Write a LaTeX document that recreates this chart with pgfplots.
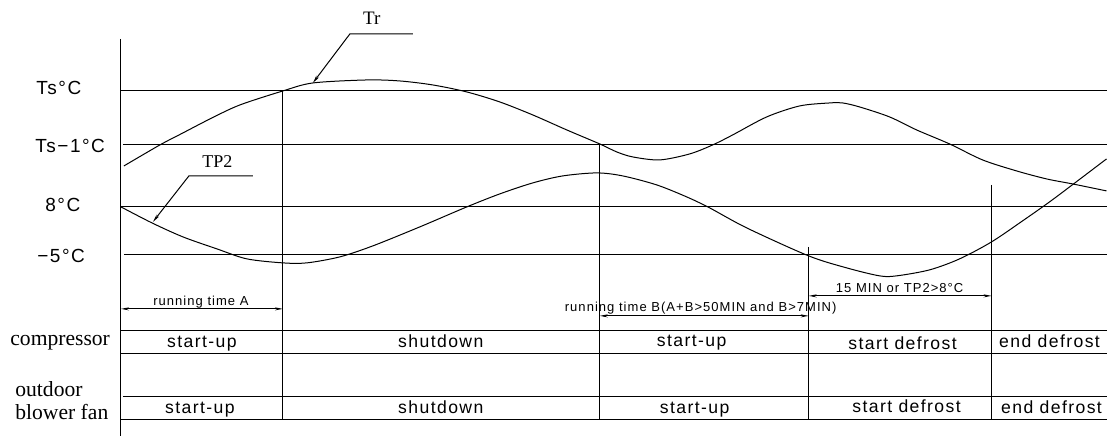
\documentclass[border=0pt]{standalone}
\usepackage{fontspec}
\setmainfont{Liberation Serif}
\newfontfamily\cad[LetterSpace=8]{Liberation Sans}
\usepackage{pgfplots}
\pgfplotsset{compat=1.18}
\usetikzlibrary{arrows.meta}

\begin{document}
\begin{tikzpicture}
\begin{axis}[
  x=0.5pt, y=0.5pt,
  xmin=0, xmax=1107, ymin=0, ymax=436,
  y dir=reverse,
  hide axis,
  clip=false,
  ln/.style={black, line width=0.5pt, mark=none, solid},
  dim/.style={ln, {Stealth[length=4pt,width=1.5pt]}-{Stealth[length=4pt,width=1.5pt]}},
  lead/.style={ln, -{Stealth[length=4pt,width=1.6pt]}},
]
% frame of the picture (invisible)
\addplot[draw=none, mark=none] coordinates {(0,0) (1107,436)};

% level lines
\addplot[ln] coordinates {(121,91) (1107,91)};
\addplot[ln] coordinates {(123,145) (1107,145)};
\addplot[ln] coordinates {(121,207) (1107,207)};
\addplot[ln] coordinates {(124,255) (1107,255)};
% row lines
\addplot[ln] coordinates {(121,331) (1107,331)};
\addplot[ln] coordinates {(121,354) (1107,354)};
\addplot[ln] coordinates {(123,397) (1107,397)};
\addplot[ln] coordinates {(121,420) (1107,420)};

% vertical lines
\addplot[ln] coordinates {(121,39) (121,436)};
\addplot[ln] coordinates {(283,91) (283,420)};
\addplot[ln] coordinates {(600,145) (600,420)};
\addplot[ln] coordinates {(809,247) (809,420)};
\addplot[ln] coordinates {(992,185) (992,420)};

% Tr
\addplot[ln, smooth] coordinates {
  (124,166) (160,145) (183,133) (212,118) (240,105) (283,91) (313,83)
  (367,80) (400,81) (433,85) (467,92) (500,102) (533,115) (567,130)
  (600,144) (617,152) (633,157) (660,160) (690,154) (713,145) (733,135)
  (767,117) (800,106) (830,103) (843,103) (860,107) (890,117) (917,130)
  (950,144) (983,160) (1017,171) (1047,179) (1073,184) (1107,191)
};
% TP2
\addplot[ln, smooth] coordinates {
  (121,207) (152,223) (183,237) (217,249) (247,259) (283,263) (307,263)
  (340,257) (373,246) (420,227) (467,207) (500,194) (533,183)
  (563,176) (597,173) (623,176) (657,185) (687,197) (710,208) (747,228)
  (809,256) (847,268) (880,276) (897,276) (930,270) (960,259) (992,242)
  (1023,221) (1050,202) (1078,181) (1107,159)
};

% leaders
\addplot[lead] coordinates {(413,34) (350,34) (313,83)};
\addplot[lead] coordinates {(253,176) (189,176) (153,222)};

% dimension arrows
\addplot[dim] coordinates {(121,309) (283,309)};
\addplot[dim] coordinates {(600,316) (809,316)};
\addplot[dim] coordinates {(809,296) (992,296)};

% labels
\node[anchor=base west, inner sep=0, font=\fontsize{9.5}{10}\selectfont] at (axis cs:363,25) {Tr};
\node[anchor=base west, inner sep=0, font=\fontsize{9}{10}\selectfont] at (axis cs:202,168) {TP2};

\node[anchor=base west, inner sep=0, font=\cad\fontsize{9.5}{10}\selectfont] at (axis cs:36,95) {Ts°C};
\node[anchor=base west, inner sep=0, font=\cad\fontsize{9.5}{10}\selectfont] at (axis cs:35,152.5) {Ts−1°C};
\node[anchor=base west, inner sep=0, font=\cad\fontsize{9.5}{10}\selectfont] at (axis cs:45,212) {8°C};
\node[anchor=base west, inner sep=0, font=\cad\fontsize{9.5}{10}\selectfont] at (axis cs:37,262.5) {−5°C};

\node[anchor=base west, inner sep=0, font=\fontsize{10.8}{12}\selectfont] at (axis cs:10,346) {compressor};
\node[anchor=base west, inner sep=0, font=\fontsize{10.8}{12}\selectfont] at (axis cs:15,396.5) {outdoor};
\node[anchor=base west, inner sep=0, font=\fontsize{10.8}{12}\selectfont] at (axis cs:15,420) {blower fan};

\node[anchor=base, inner sep=0, font=\cad\fontsize{6.5}{7}\selectfont] at (axis cs:201,306) {running time A};
\node[anchor=base, inner sep=0, font=\cad\fontsize{6.5}{7}\selectfont] at (axis cs:701,312) {running time B(A+B>50MIN and B>7MIN)};
\node[anchor=base, inner sep=0, font=\cad\fontsize{6.5}{7}\selectfont] at (axis cs:900,293) {15 MIN or TP2>8°C};

% compressor row
\node[anchor=base, inner sep=0, font=\cad\fontsize{8.8}{10}\selectfont] at (axis cs:202,348) {start-up};
\node[anchor=base, inner sep=0, font=\cad\fontsize{8.8}{10}\selectfont] at (axis cs:441,348) {shutdown};
\node[anchor=base, inner sep=0, font=\cad\fontsize{8.8}{10}\selectfont] at (axis cs:692,347) {start-up};
\node[anchor=base, inner sep=0, font=\cad\fontsize{8.8}{10}\selectfont] at (axis cs:903,350) {start defrost};
\node[anchor=base, inner sep=0, font=\cad\fontsize{8.8}{10}\selectfont] at (axis cs:1050,348) {end defrost};
% fan row
\node[anchor=base, inner sep=0, font=\cad\fontsize{8.8}{10}\selectfont] at (axis cs:200,414) {start-up};
\node[anchor=base, inner sep=0, font=\cad\fontsize{8.8}{10}\selectfont] at (axis cs:441,414) {shutdown};
\node[anchor=base, inner sep=0, font=\cad\fontsize{8.8}{10}\selectfont] at (axis cs:695,414) {start-up};
\node[anchor=base, inner sep=0, font=\cad\fontsize{8.8}{10}\selectfont] at (axis cs:907,413) {start defrost};
\node[anchor=base, inner sep=0, font=\cad\fontsize{8.8}{10}\selectfont] at (axis cs:1052,414) {end defrost};
\end{axis}
\end{tikzpicture}
\end{document}
